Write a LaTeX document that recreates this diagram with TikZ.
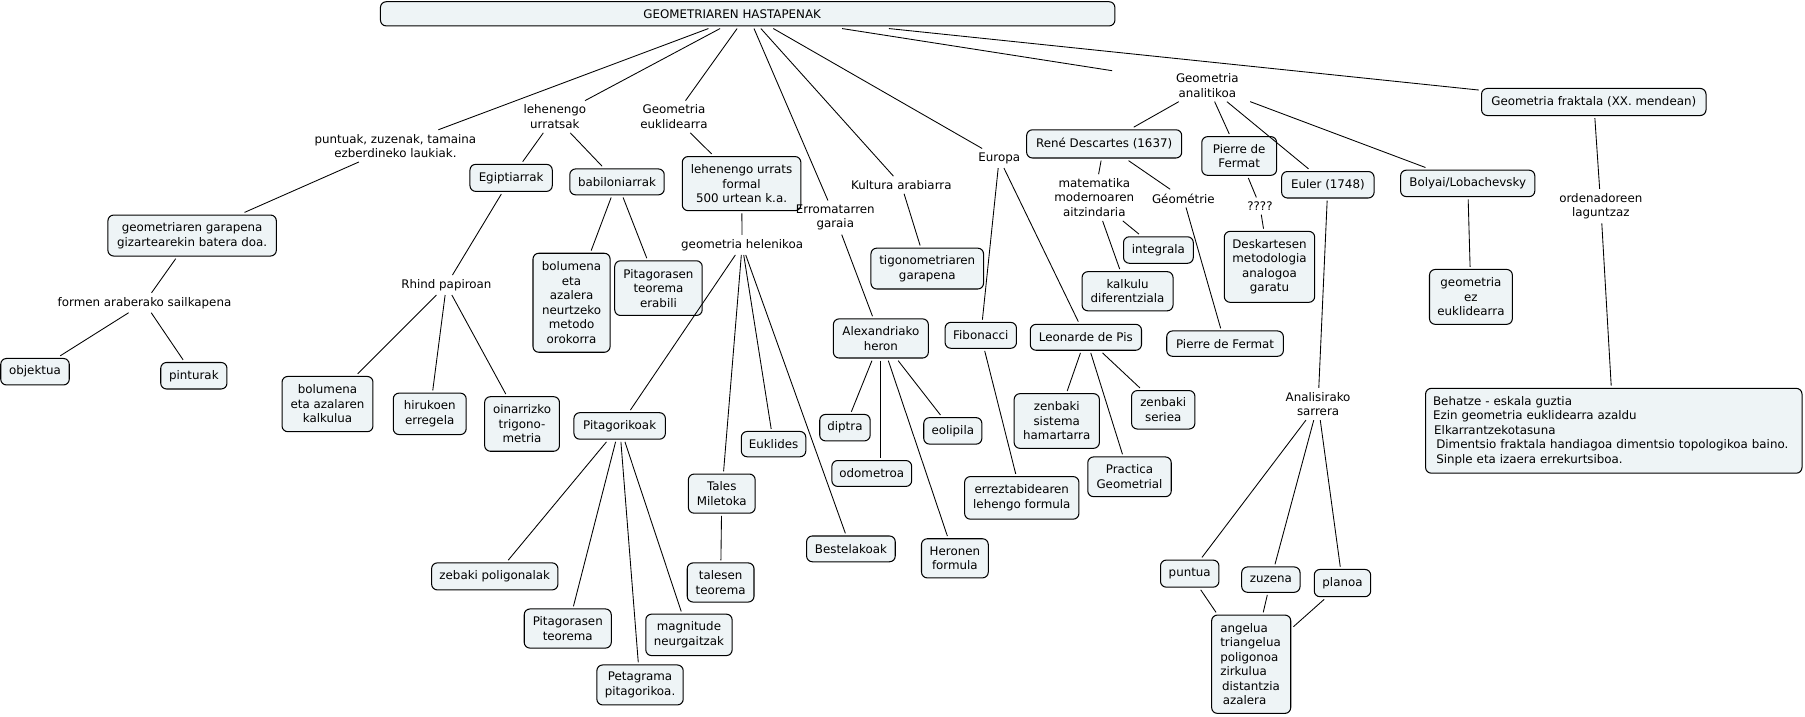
\documentclass[tikz,border=0pt]{standalone}
\usepackage{fontspec}
\setmainfont{DejaVu Sans}
\newcommand{\fs}{\fontsize{10.3}{12.6}\selectfont}
\definecolor{boxfill}{HTML}{EEF4F6}
\begin{document}
\begin{tikzpicture}[x=1pt,y=-1pt,
  box/.style={draw, line width=0.9pt, rounded corners=5pt, fill=boxfill, align=center, inner sep=1pt, outer sep=2.3pt, font=\fs},
  lbl/.style={align=center, inner sep=3.5pt, font=\fs},
  wh/.style 2 args={minimum width=#1pt, minimum height=#2pt},
  conn/.style={line width=0.75pt}]
\useasboundingbox (0,0) rectangle (1568,622);
% boxes
\node[box, wh={638}{21}] (title) at (649.5,12) {GEOMETRIAREN HASTAPENAK\hspace{27pt}};
\node[box, wh={195}{23.5}] (fraktala) at (1384.5,88.6) {Geometria fraktala (XX. mendean)};
\node[box, wh={146.3}{35.6}] (garapena) at (166.9,204.6) {geometriaren garapena\\gizartearekin batera doa.};
\node[box, wh={59.5}{23}] (objektua) at (30.4,322.9) {objektua};
\node[box, wh={57.5}{23}] (pinturak) at (168.4,326.4) {pinturak};
\node[box, wh={71.5}{23.5}] (egipt) at (444,154.5) {Egiptiarrak};
\node[box, wh={82}{22.5}] (babil) at (536,158) {babiloniarrak};
\node[box, wh={103}{47}] (formal) at (644.2,159.5) {lehenengo urrats\\formal\\500 urtean k.a.};
\node[box, wh={67}{86}] (bolmet) at (496.5,263) {bolumena\\eta\\azalera\\neurtzeko\\metodo\\orokorra};
\node[box, wh={76}{47.5}] (pitaerab) at (572,250.3) {Pitagorasen\\teorema\\erabili};
\node[box, wh={79}{48}] (bolkalk) at (284.5,351) {bolumena\\eta azalaren\\kalkulua};
\node[box, wh={63.3}{36}] (hiruk) at (373.3,359.5) {hirukoen\\erregela};
\node[box, wh={65}{47.4}] (oinarr) at (453.5,368.3) {oinarrizko\\trigono-\\metria};
\node[box, wh={79.4}{23}] (pitagorikoak) at (538.3,370) {Pitagorikoak};
\node[box, wh={109.7}{23.5}] (zebaki) at (429.8,500.7) {zebaki poligonalak};
\node[box, wh={75.6}{34}] (pitateo) at (493.2,546) {Pitagorasen\\teorema};
\node[box, wh={75}{34.7}] (petagrama) at (556,595) {Petagrama\\pitagorikoa.};
\node[box, wh={75}{36}] (magnitude) at (598.5,551.5) {magnitude\\neurgaitzak};
\node[box, wh={58}{34}] (tales) at (627,428.8) {Tales\\Miletoka};
\node[box, wh={58}{34}] (talesteo) at (626,506) {talesen\\teorema};
\node[box, wh={56}{22}] (euklides) at (672,385.8) {Euklides};
\node[box, wh={77}{22.4}] (bestelakoak) at (739.2,476.8) {Bestelakoak};
\node[box, wh={82.5}{34}] (heron) at (765.2,294) {Alexandriako\\heron};
\node[box, wh={43.8}{23}] (diptra) at (734,371.5) {diptra};
\node[box, wh={69.3}{22.5}] (odometroa) at (757.3,411.3) {odometroa};
\node[box, wh={50.5}{23}] (eolipila) at (827.7,374.3) {eolipila};
\node[box, wh={58}{34}] (heronen) at (829.5,485) {Heronen\\formula};
\node[box, wh={97.8}{35.5}] (tigono) at (805.5,233.3) {tigonometriaren\\garapena};
\node[box, wh={62}{22.5}] (fibonacci) at (852,291.3) {Fibonacci};
\node[box, wh={96.6}{22.5}] (leonarde) at (943.3,293) {Leonarde de Pis};
\node[box, wh={99.3}{37}] (erreztab) at (887.6,432.5) {erreztabidearen\\lehengo formula};
\node[box, wh={74}{47.5}] (zensist) at (918,365.7) {zenbaki\\sistema\\hamartarra};
\node[box, wh={55}{33.4}] (zenser) at (1010.5,356) {zenbaki\\seriea};
\node[box, wh={72.5}{34.5}] (practica) at (981.2,414.2) {Practica\\Geometrial};
\node[box, wh={134.7}{24.5}] (rene) at (959.2,125) {René Descartes (1637)};
\node[box, wh={65}{33.6}] (fermat1) at (1076.5,135.5) {Pierre de\\Fermat};
\node[box, wh={80.3}{23}] (euler) at (1153.5,160.5) {Euler (1748)};
\node[box, wh={60.6}{23}] (integrala) at (1006.3,217.2) {integrala};
\node[box, wh={79}{34}] (kalkulu) at (979.5,253) {kalkulu\\diferentziala};
\node[box, wh={78.5}{61.6}] (deskart) at (1102.8,231.8) {Deskartesen\\metodologia\\analogoa\\garatu};
\node[box, wh={101.3}{22}] (fermat2) at (1064.2,298.5) {Pierre de Fermat};
\node[box, wh={116.6}{23}] (bolyai) at (1275,159.3) {Bolyai/Lobachevsky};
\node[box, wh={72}{47.7}] (ezeukl) at (1277.8,257.9) {geometria\\ez\\euklidearra};
\node[box, align=left, text width=314pt, inner xsep=6.5pt, minimum height=73.7pt] (behatze) at (1401.9,374.2) {Behatze - eskala guztia\\Ezin geometria euklidearra azaldu\\\hspace{1pt}Elkarrantzekotasuna\\\hspace{2.8pt}Dimentsio fraktala handiagoa dimentsio topologikoa baino.\\\hspace{2.8pt}Sinple eta izaera errekurtsiboa.};
\node[box, wh={50.7}{23.5}] (puntua) at (1033.5,498.3) {puntua};
\node[box, wh={50.7}{22}] (zuzena) at (1104,503.5) {zuzena};
\node[box, wh={49}{23.7}] (planoa) at (1166.2,506.5) {planoa};
\node[box, align=left, text width=53.7pt, inner xsep=7.5pt, minimum height=85.4pt] (angelua) at (1086.9,577) {angelua\\triangelua\\poligonoa\\zirkulua\\\hspace{1.5pt}distantzia\\\hspace{2.2pt}azalera};
% labels
\node[lbl] (lpunt) at (343.5,126.7) {puntuak, zuzenak, tamaina\\ezberdineko laukiak.};
\node[lbl] (lurr) at (482,101.4) {lehenengo\\urratsak};
\node[lbl] (leukl) at (585.5,101.4) {Geometria\\euklidearra};
\node[lbl] (lformen) at (125.5,263) {formen araberako sailkapena};
\node[lbl] (lrhind) at (387.8,247.6) {Rhind papiroan};
\node[lbl] (lhelen) at (644.7,212.8) {geometria helenikoa};
\node[lbl] (lerrom) at (725.6,189) {Erromatarren\\garaia};
\node[lbl] (lkult) at (783,160.7) {Kultura arabiarra};
\node[lbl] (leuropa) at (868,137.5) {Europa};
\node[lbl, minimum width=165pt] (lanal) at (1048.8,74.3) {Geometria\\analitikoa};
\node[lbl] (lmatem) at (950.6,171.6) {matematika\\modernoaren\\aitzindaria};
\node[lbl] (lgeom) at (1028,172.3) {Géométrie};
\node[lbl] (lquest) at (1094.5,179) {????};
\node[lbl] (lorden) at (1390.6,179) {ordenadoreen\\laguntzaz};
\node[lbl] (lanalis) at (1145,351) {Analisirako\\sarrera};
% connectors
\foreach \a/\b in {title/lpunt, title/lurr, title/leukl, title/lerrom, title/lkult, title/leuropa, title/lanal, title/fraktala,
  lpunt/garapena, garapena/lformen, lformen/objektua, lformen/pinturak,
  lurr/egipt, lurr/babil, egipt/lrhind, lrhind/bolkalk, lrhind/hiruk, lrhind/oinarr,
  babil/bolmet, babil/pitaerab, leukl/formal, formal/lhelen,
  lhelen/pitagorikoak, lhelen/tales, lhelen/euklides, lhelen/bestelakoak,
  pitagorikoak/zebaki, pitagorikoak/pitateo, pitagorikoak/petagrama, pitagorikoak/magnitude,
  tales/talesteo, lerrom/heron, heron/diptra, heron/eolipila, heron/heronen,
  lkult/tigono, leuropa/fibonacci, leuropa/leonarde, fibonacci/erreztab,
  leonarde/zensist, leonarde/practica, leonarde/zenser,
  lanal/rene, lanal/fermat1, lanal/euler, lanal/bolyai,
  rene/lmatem, rene/lgeom, lmatem/integrala, lmatem/kalkulu, lgeom/fermat2,
  fermat1/lquest, lquest/deskart, euler/lanalis,
  lanalis/puntua, lanalis/zuzena, lanalis/planoa,
  puntua/angelua, zuzena/angelua, planoa/angelua,
  bolyai/ezeukl, fraktala/lorden, lorden/behatze}
  \draw[conn] (\a) -- (\b);
\draw[conn] (heron.south) -- (heron.south |- odometroa.north);
\end{tikzpicture}
\end{document}
